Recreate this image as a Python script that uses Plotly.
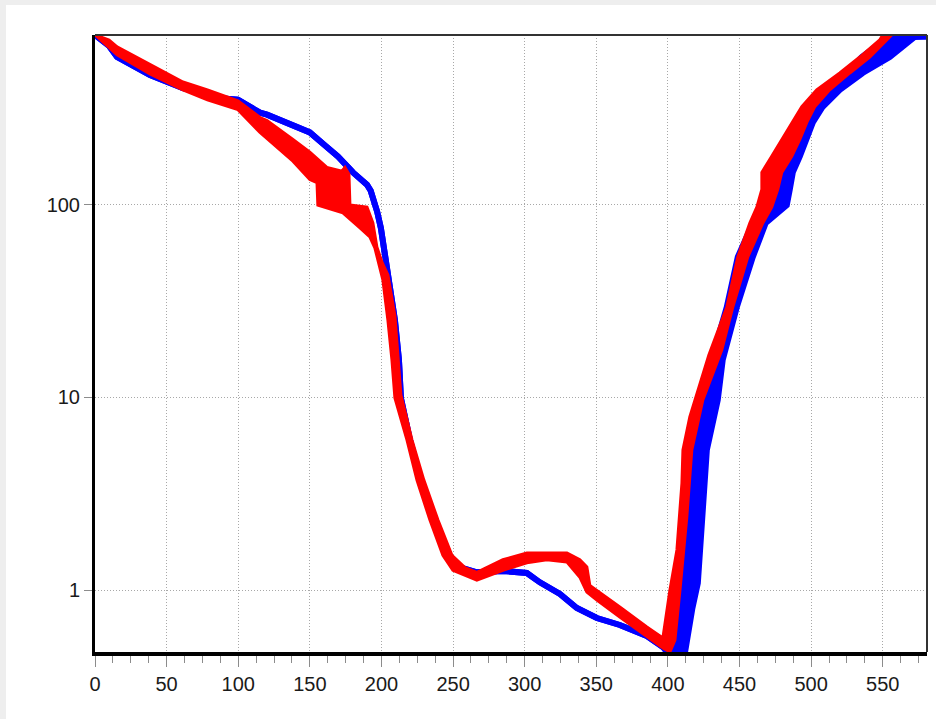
import plotly.graph_objects as go

# ---- data ----
x_tick_vals = [0, 50, 100, 150, 200, 250, 300, 350, 400, 450, 500, 550]
y_tick_vals = [1, 10, 100]
y_tick_text = ["1", "10", "100"]

# blue bundle: common descending part, then left / right edges of the rising part
blue_desc_x = [0, 9.8, 15.4, 38.4, 61.4, 78.5, 85.2, 99.8, 115.2, 120.1, 140.3, 150.0, 159.8,
               169.6, 180.1, 185.0, 189.9, 192.5, 194.7, 197.0, 199.6, 203.1, 205.9, 209.4,
               212.2, 213.6, 219.9, 227.5, 237.3, 246.4, 255.5, 266.6, 284.8, 301.5, 310.6,
               324.6, 336.4, 350.4, 366.4, 385.3, 396.5]
blue_desc_y = [760, 666, 584, 471, 402, 376, 358, 350, 300, 293, 254, 237, 205,
               178, 147, 138, 127, 118, 106, 92, 75.7, 51.7, 40.7, 25.2,
               15.7, 9.93, 6.03, 3.73, 2.32, 1.52, 1.31, 1.24, 1.26, 1.23, 1.10,
               0.957, 0.81, 0.718, 0.661, 0.580, 0.508]
blue_rise_left_x = [401.0, 408.4, 412.5, 413.9, 422.3, 430.7, 441.1, 448.8, 458.6, 464.2,
                    479.5, 487.2, 499.1, 524.9, 535.4, 551.4, 560.0, 570.0, 581.4]
blue_rise_left_y = [0.46, 1.00, 2.40, 3.60, 9.70, 15.7, 29.4, 53.6, 80.4, 97.2,
                    147, 218, 322, 482, 583, 715, 752, 752, 745]
blue_rise_right_x = [410.6, 412.0, 413.9, 417.0, 420.9, 423.7, 427.2, 434.8, 438.3, 448.1,
                     459.3, 468.3, 476.0, 483.0, 485.1, 487.2, 492.1, 497.0, 501.2, 508.1,
                     520.0, 536.0, 554.9, 565.4, 572.3, 581.4]
blue_rise_right_y = [0.46, 0.479, 0.601, 0.80, 1.09, 2.40, 5.35, 9.70, 15.7, 29.4,
                     53.6, 80.4, 90.6, 99.5, 120, 147, 178, 218, 267, 322,
                     394, 482, 583, 673, 741, 745]

# red bundle: upper and lower envelope
red_upper_x = [0, 9.8, 15.4, 38.4, 61.4, 78.5, 99.8, 115.2, 120.1, 138.2, 150.0, 161.9,
               172.4, 174.5, 177.3, 178.0, 189.9, 194.0, 196.8, 200.5, 204.5, 209.4, 211.5,
               213.6, 221.3, 229.6, 239.4, 249.2, 258.3, 266.6, 284.8, 301.5, 315.5, 329.5,
               338.5, 343.4, 345.5, 350.4, 366.4, 385.3, 396.5, 401.4, 406.3, 409.8, 410.5,
               415.3, 418.8, 428.6, 441.1, 448.8, 457.2, 462.1, 465.6, 465.6, 472.5, 479.5,
               486.5, 493.5, 503.9, 520.0, 534.0, 547.9, 550.0, 558.0]
red_upper_y = [760, 715, 658, 536, 433, 394, 346, 283, 273, 218, 187, 156,
               149, 156, 144, 99.5, 97.2, 80.4, 60.4, 50.0, 43.2, 26.5, 16.6,
               10.3, 6.03, 3.73, 2.32, 1.52, 1.31, 1.24, 1.44, 1.56, 1.56, 1.56,
               1.44, 1.32, 1.06, 1.00, 0.819, 0.645, 0.566, 1.00, 1.62, 3.60, 5.35,
               7.93, 9.70, 16.6, 29.4, 53.6, 80.4, 97.2, 120, 147, 178, 218,
               267, 322, 394, 482, 583, 715, 759, 800]
red_lower_x = [0, 9.8, 15.4, 38.4, 61.4, 78.5, 85.2, 99.8, 115.2, 138.2, 150.0, 155.0,
               155.6, 173.1, 185.0, 191.9, 195.4, 201.0, 204.5, 207.3, 209.4, 217.8, 224.8,
               233.8, 242.9, 249.9, 266.6, 284.8, 301.5, 315.5, 329.5, 338.5, 343.4, 350.4,
               366.4, 385.3, 396.5, 401.4, 404.9, 408.4, 413.2, 416.7, 424.4, 437.6, 445.3,
               455.8, 466.3, 472.5, 476.7, 479.5, 486.5, 492.1, 497.0, 502.5, 513.0, 527.0,
               540.9, 552.8, 556.3, 558.0]
red_lower_y = [760, 658, 599, 477, 394, 350, 337, 311, 237, 168, 135, 130,
               99.5, 90.6, 75.7, 68.0, 59.7, 40.7, 25.2, 15.7, 9.93, 6.03, 3.73,
               2.32, 1.52, 1.27, 1.13, 1.27, 1.39, 1.44, 1.40, 1.17, 0.98, 0.891,
               0.727, 0.573, 0.502, 0.479, 0.552, 1.00, 2.40, 5.35, 9.70, 17.6, 29.4,
               53.6, 80.4, 97.2, 120, 147, 178, 218, 267, 322, 394, 482,
               583, 715, 759, 800]

BLUE = "#0000ff"
RED = "#ff0000"

fig = go.Figure()
fig.add_trace(go.Scatter(x=blue_desc_x + blue_rise_right_x, y=blue_desc_y + blue_rise_right_y,
                         mode="lines", line=dict(color=BLUE, width=6), hoverinfo="skip"))
fig.add_trace(go.Scatter(x=blue_desc_x + blue_rise_left_x, y=blue_desc_y + blue_rise_left_y,
                         mode="lines", line=dict(color=BLUE, width=6), fill="tonext",
                         fillcolor=BLUE, hoverinfo="skip"))
fig.add_trace(go.Scatter(x=red_lower_x, y=red_lower_y, mode="lines",
                         line=dict(color=RED, width=3), hoverinfo="skip"))
fig.add_trace(go.Scatter(x=red_upper_x, y=red_upper_y, mode="lines",
                         line=dict(color=RED, width=3), fill="tonext",
                         fillcolor=RED, hoverinfo="skip"))

tick_font = dict(family="Liberation Sans, Arial, sans-serif", size=20, color="#1a1a1a")

fig.update_layout(
    width=936, height=719,
    margin=dict(l=95, r=9, t=35, b=67),
    paper_bgcolor="white", plot_bgcolor="white",
    showlegend=False, hovermode=False,
    xaxis=dict(range=[0, 580.9], tickvals=x_tick_vals, ticks="outside", ticklen=11,
               tickcolor="#8c8c8c", tickwidth=1, tickfont=tick_font,
               showline=True, linecolor="black", linewidth=4, zeroline=False,
               showgrid=True, gridcolor="#a8a8a8", griddash="1px,2px", gridwidth=1,
               minor=dict(dtick=12.5, tick0=0, ticks="outside", ticklen=7,
                          tickcolor="#8c8c8c", tickwidth=1, showgrid=False)),
    yaxis=dict(type="log", range=[-0.320, 2.880], tickvals=y_tick_vals, ticktext=y_tick_text,
               ticks="outside", ticklen=8, tickcolor="#8c8c8c", tickwidth=1, tickfont=tick_font,
               showline=True, linecolor="black", linewidth=3, zeroline=False,
               showgrid=True, gridcolor="#a8a8a8", griddash="1px,2px", gridwidth=1),
    shapes=[
        dict(type="line", xref="paper", yref="paper", x0=0, x1=1, y0=1, y1=1,
             line=dict(color="#333333", width=2)),
        dict(type="line", xref="paper", yref="paper", x0=1, x1=1, y0=0, y1=1,
             line=dict(color="#333333", width=2)),
        dict(type="rect", xref="paper", yref="paper", x0=-0.2, x1=1.2,
             ysizemode="pixel", yanchor=1, y0=30, y1=36,
             line=dict(width=0), fillcolor="#eeeeee", layer="below"),
        dict(type="rect", yref="paper", xref="paper", y0=-0.2, y1=1.2,
             xsizemode="pixel", xanchor=0, x0=-96, x1=-89,
             line=dict(width=0), fillcolor="#eeeeee", layer="below"),
    ],
)

fig.write_html("out.html")
